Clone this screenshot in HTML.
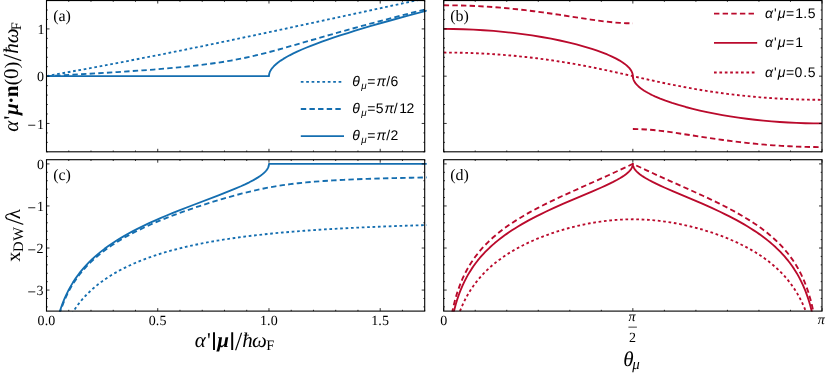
<!DOCTYPE html>
<html><head><meta charset="utf-8"><title>Figure</title>
<style>
html,body{margin:0;padding:0;background:#fff;}
body{width:830px;height:374px;overflow:hidden;position:relative;font-family:"Liberation Serif",serif;}
svg text{fill:#000;text-rendering:geometricPrecision;}
</style></head><body>
<svg width="830" height="374" viewBox="0 0 830 374" style="position:absolute;left:0;top:0;will-change:transform">
<defs>
<clipPath id="ca"><rect x="44.50" y="0.25" width="382.20" height="151.85"/></clipPath>
<clipPath id="cb"><rect x="441.70" y="0.25" width="382.30" height="151.85"/></clipPath>
<clipPath id="cc"><rect x="44.50" y="159.40" width="382.20" height="152.00"/></clipPath>
<clipPath id="cd"><rect x="441.70" y="159.40" width="382.30" height="152.00"/></clipPath>
</defs>
<rect width="830" height="374" fill="#fff"/>
<path d="M46.52 76.17L93.99 67.39L130.36 60.49L165.33 53.65L201.70 46.29L239.47 38.44L283.35 29.12L336.17 17.75L429.15 -2.37" fill="none" stroke="#146eb0" stroke-width="1.85" stroke-dasharray="2.7 2.7" clip-path="url(#ca)" stroke-linejoin="round"/>
<path d="M46.52 416.24L48.59 416.24L48.78 414.85L49.34 405.54L50.10 395.67L50.85 387.69L51.60 380.98L52.54 373.86L53.48 367.78L54.61 361.48L55.93 355.16L57.06 350.41L58.32 345.67L59.72 340.97L61.12 336.75L62.52 332.92L64.62 327.77L66.02 324.65L68.11 320.38L70.21 316.51L71.61 314.12L73.01 311.86L75.11 308.68L77.91 304.80L80.70 301.26L82.10 299.60L84.20 297.24L87.00 294.28L90.50 290.88L93.99 287.75L97.49 284.85L101.69 281.64L105.88 278.69L110.08 275.95L114.28 273.41L119.17 270.66L124.07 268.11L128.96 265.74L134.56 263.23L140.15 260.90L146.45 258.48L152.04 256.49L158.34 254.40L164.63 252.47L171.63 250.48L178.62 248.64L185.61 246.94L193.31 245.21L201.00 243.61L208.70 242.15L217.09 240.67L225.48 239.32L234.57 237.97L243.67 236.74L252.76 235.62L262.55 234.51L272.25 233.51L282.82 232.52L293.38 231.62L304.48 230.76L316.10 229.95L328.25 229.18L340.40 228.49L353.61 227.81L367.34 227.18L381.60 226.59L396.92 226.02L429.15 225.02" fill="none" stroke="#146eb0" stroke-width="1.85" stroke-dasharray="2.7 2.7" clip-path="url(#cc)" stroke-linejoin="round"/>
<path d="M46.52 76.17L87.70 73.87L117.07 72.10L142.25 70.39L153.44 69.55L163.93 68.70L173.72 67.84L183.52 66.90L192.61 65.94L201.00 64.96L208.70 63.98L216.39 62.91L224.08 61.72L231.08 60.54L240.87 58.69L249.96 56.77L259.05 54.64L269.12 52.09L276.48 50.11L284.40 47.91L329.83 34.86L344.10 30.85L358.36 26.91L374.74 22.49L392.17 17.89L410.13 13.25L429.15 8.42" fill="none" stroke="#146eb0" stroke-width="1.85" stroke-dasharray="5.4 3.24" clip-path="url(#ca)" stroke-linejoin="round"/>
<path d="M46.52 416.24L47.46 416.24L47.65 415.89L48.03 404.00L48.40 394.74L48.97 383.82L49.53 375.15L50.10 367.98L50.85 359.98L51.79 351.75L52.73 344.86L53.67 338.95L54.61 333.76L55.74 328.28L57.06 322.67L58.32 317.91L59.72 313.20L61.12 308.97L63.22 303.32L65.32 298.33L67.42 293.87L69.51 289.84L70.91 287.34L72.31 284.99L75.11 280.63L77.91 276.68L80.70 273.06L83.50 269.72L87.00 265.88L90.50 262.34L93.99 259.07L98.19 255.44L102.39 252.08L106.58 248.95L111.48 245.55L116.37 242.38L119.17 240.65L122.67 238.59L128.96 235.07L135.96 231.43L143.65 227.71L151.34 224.22L159.74 220.65L168.83 217.01L177.92 213.57L188.41 209.81L199.60 206.02L210.79 202.44L221.98 199.04L232.47 196.05L242.27 193.44L252.06 191.04L261.15 189.04L268.29 187.63L275.42 186.36L282.82 185.20L290.21 184.18L298.14 183.23L306.06 182.42L314.51 181.67L323.49 181.00L333.00 180.40L343.57 179.83L355.19 179.31L367.34 178.86L380.55 178.45L395.34 178.06L411.72 177.72L429.15 177.41" fill="none" stroke="#146eb0" stroke-width="1.85" stroke-dasharray="5.4 3.24" clip-path="url(#cc)" stroke-linejoin="round"/>
<path d="M46.50 76.18L268.96 76.18L269.00 75.35L269.12 74.47L269.29 73.62L269.54 72.79L269.85 71.96L270.23 71.13L271.20 69.47L272.25 68.03L273.84 66.24L274.89 65.20L275.95 64.24L278.06 62.52L280.70 60.62L283.35 58.91L286.52 57.04L289.68 55.31L293.38 53.43L297.08 51.68L301.31 49.78L306.06 47.77L310.82 45.85L316.10 43.82L321.91 41.68L327.72 39.63L334.06 37.46L340.93 35.20L347.80 33.01L355.19 30.71L371.04 25.97L388.47 21.00L408.02 15.63L429.15 10.03" fill="none" stroke="#146eb0" stroke-width="1.85" clip-path="url(#ca)" stroke-linejoin="round"/>
<path d="M46.52 416.24L47.46 416.24L47.65 414.44L48.03 402.54L48.40 393.28L48.97 382.36L49.53 373.70L50.10 366.52L50.85 358.53L51.60 351.81L52.54 344.69L53.48 338.61L54.42 333.29L55.55 327.68L56.68 322.74L58.32 316.45L59.72 311.74L61.12 307.50L62.52 303.65L64.62 298.46L66.72 293.83L68.81 289.66L70.91 285.86L73.01 282.37L75.81 278.12L78.61 274.25L80.00 272.43L82.10 269.85L84.90 266.62L88.40 262.89L91.89 259.45L96.09 255.65L100.29 252.14L104.48 248.87L108.68 245.82L113.58 242.49L117.77 239.80L122.67 236.84L127.56 234.04L132.46 231.38L137.36 228.84L142.95 226.07L148.55 223.42L154.84 220.57L160.44 218.12L166.03 215.75L172.33 213.17L178.62 210.65L191.21 205.76L218.49 195.39L229.68 190.98L235.27 188.67L240.87 186.26L245.06 184.34L249.26 182.30L253.46 180.09L255.56 178.89L257.65 177.61L259.75 176.23L261.15 175.22L262.55 174.13L263.95 172.93L265.35 171.55L266.05 170.76L266.97 169.57L267.71 168.40L268.24 167.31L268.65 166.18L268.89 165.02L268.98 163.91L429.15 163.91" fill="none" stroke="#146eb0" stroke-width="1.85" clip-path="url(#cc)" stroke-linejoin="round"/>
<path d="M443.70 5.28L451.50 5.32L459.79 5.47L468.08 5.72L476.38 6.08L484.08 6.50L492.37 7.05L500.66 7.69L508.95 8.43L517.25 9.27L525.54 10.20L533.83 11.21L542.72 12.38L558.71 14.67L590.70 19.56L598.40 20.65L604.91 21.48L612.61 22.32L619.72 22.89L626.24 23.22L632.85 23.33M632.85 129.02L639.46 129.13L645.98 129.46L653.09 130.03L660.79 130.87L667.30 131.70L675.00 132.79L706.99 137.68L722.98 139.97L731.87 141.14L740.16 142.15L748.45 143.08L756.75 143.92L765.04 144.66L773.33 145.30L781.62 145.85L789.32 146.27L797.62 146.63L805.91 146.88L814.20 147.03L822.00 147.07" fill="none" stroke="#ba0a2c" stroke-width="1.85" stroke-dasharray="5.4 3.24" clip-path="url(#cb)" stroke-linejoin="round"/>
<path d="M443.70 416.24L444.39 416.24L444.92 393.90L445.45 378.65L445.83 370.38L446.22 363.47L446.67 356.45L447.13 350.43L447.59 345.17L448.12 339.76L448.65 334.97L449.26 330.09L450.31 322.82L450.91 319.20L452.09 312.80L452.68 309.92L453.87 304.71L455.05 300.06L456.24 295.88L457.42 292.07L458.61 288.58L459.79 285.35L461.57 280.92L462.75 278.21L464.53 274.44L466.31 270.97L468.08 267.76L469.86 264.77L471.64 261.97L473.41 259.35L475.78 256.07L478.15 253.02L480.52 250.17L482.89 247.48L485.26 244.95L487.63 242.55L490.59 239.71L492.96 237.56L495.92 235.00L498.88 232.57L502.44 229.81L505.40 227.61L508.95 225.09L512.51 222.69L516.06 220.39L519.62 218.18L523.76 215.70L530.87 211.67L537.98 207.87L546.27 203.66L555.16 199.35L562.26 196.03L570.56 192.24L597.21 180.31L608.47 175.22L619.13 170.31L632.85 163.91L646.57 170.31L657.23 175.22L668.49 180.31L695.14 192.24L703.44 196.03L710.54 199.35L719.43 203.66L727.72 207.87L734.83 211.67L741.94 215.70L746.08 218.18L749.64 220.39L753.19 222.69L756.75 225.09L760.30 227.61L763.26 229.81L766.82 232.57L769.78 235.00L772.74 237.56L775.11 239.71L778.07 242.55L780.44 244.95L782.81 247.48L785.18 250.17L787.55 253.02L789.92 256.07L792.29 259.35L794.06 261.97L795.84 264.77L797.62 267.76L799.39 270.97L801.17 274.44L802.95 278.21L804.13 280.92L805.91 285.35L807.09 288.58L808.28 292.07L809.46 295.88L810.65 300.06L811.83 304.71L813.02 309.92L813.61 312.80L814.79 319.20L815.39 322.82L816.44 330.09L817.05 334.97L817.58 339.76L818.11 345.17L818.57 350.43L819.03 356.45L819.48 363.47L819.87 370.38L820.25 378.65L820.78 393.90L821.31 416.24L822.00 416.24" fill="none" stroke="#ba0a2c" stroke-width="1.85" stroke-dasharray="5.4 3.24" clip-path="url(#cd)" stroke-linejoin="round"/>
<path d="M443.70 28.91L453.27 28.98L463.34 29.22L473.41 29.63L483.48 30.21L493.55 30.95L503.03 31.81L513.10 32.89L522.58 34.08L532.06 35.44L541.53 36.98L551.01 38.70L559.90 40.51L568.19 42.37L576.48 44.43L584.18 46.53L591.88 48.87L597.21 50.65L602.54 52.59L607.28 54.48L612.02 56.57L616.17 58.61L619.72 60.58L622.68 62.45L624.46 63.70L625.64 64.62L627.57 66.28L629.20 67.94L630.53 69.61L631.07 70.43L631.55 71.27L632.19 72.67L632.61 74.06L632.80 75.26L632.94 77.47L633.11 78.36L633.35 79.21L633.73 80.20L634.19 81.17L634.77 82.14L635.45 83.11L636.28 84.15L637.23 85.18L638.28 86.21L639.46 87.25L640.65 88.20L642.42 89.50L644.20 90.68L645.98 91.77L647.76 92.78L650.13 94.05L652.49 95.22L654.86 96.33L657.23 97.37L660.19 98.60L665.53 100.65L672.04 102.90L678.56 104.95L685.67 106.98L692.77 108.83L699.88 110.53L706.99 112.09L714.69 113.65L722.39 115.06L730.09 116.35L738.38 117.61L746.68 118.73L754.97 119.73L763.26 120.60L771.55 121.35L779.85 121.98L788.14 122.50L796.43 122.91L805.32 123.21L813.61 123.38L822.00 123.44" fill="none" stroke="#ba0a2c" stroke-width="1.85" clip-path="url(#cb)" stroke-linejoin="round"/>
<path d="M443.70 416.24L444.54 416.24L445.07 395.79L445.68 380.34L446.06 372.95L446.52 365.51L446.98 359.19L447.51 352.85L448.50 343.13L449.11 338.10L449.72 333.61L450.91 326.05L451.50 322.73L452.68 316.77L453.27 314.09L454.46 309.17L455.64 304.78L456.83 300.79L458.01 297.15L459.20 293.80L460.38 290.69L461.57 287.79L462.75 285.08L464.53 281.32L466.31 277.86L468.08 274.65L469.86 271.67L471.64 268.88L473.41 266.27L475.78 263.00L477.56 260.71L479.34 258.53L481.11 256.45L483.48 253.82L485.26 251.94L487.63 249.56L490.00 247.30L492.37 245.14L494.74 243.08L497.70 240.63L500.07 238.76L503.03 236.52L505.99 234.37L508.95 232.32L511.92 230.35L514.88 228.45L518.43 226.26L521.99 224.15L525.54 222.13L529.09 220.17L536.79 216.14L540.94 214.07L545.68 211.78L553.97 207.92L563.45 203.71L572.33 199.89L592.47 191.36L601.36 187.48L605.51 185.60L609.65 183.64L613.21 181.87L616.76 180.00L620.31 177.96L622.09 176.86L623.87 175.69L625.64 174.40L626.83 173.47L627.93 172.52L628.93 171.58L629.85 170.60L630.65 169.63L631.33 168.66L631.87 167.71L632.31 166.73L632.61 165.79L632.79 164.85L632.85 163.91L632.91 164.85L633.09 165.79L633.39 166.73L633.83 167.71L634.37 168.66L635.05 169.63L635.85 170.60L636.77 171.58L637.77 172.52L638.87 173.47L640.06 174.40L641.83 175.69L643.61 176.86L645.39 177.96L648.94 180.00L652.49 181.87L656.05 183.64L660.19 185.60L664.34 187.48L673.23 191.36L693.37 199.89L702.25 203.71L711.73 207.92L720.02 211.78L724.76 214.07L728.91 216.14L736.61 220.17L740.16 222.13L743.71 224.15L747.27 226.26L750.82 228.45L753.78 230.35L756.75 232.32L759.71 234.37L762.67 236.52L765.63 238.76L768.00 240.63L770.96 243.08L773.33 245.14L775.70 247.30L778.07 249.56L780.44 251.94L782.22 253.82L784.59 256.45L786.36 258.53L788.14 260.71L789.92 263.00L792.29 266.27L794.06 268.88L795.84 271.67L797.62 274.65L799.39 277.86L801.17 281.32L802.95 285.08L804.13 287.79L805.32 290.69L806.50 293.80L807.69 297.15L808.87 300.79L810.06 304.78L811.24 309.17L812.43 314.09L813.02 316.77L814.20 322.73L814.79 326.05L815.98 333.61L816.59 338.10L817.20 343.13L818.19 352.85L818.72 359.19L819.18 365.51L819.64 372.95L820.02 380.34L820.63 395.79L821.16 416.24L822.00 416.24" fill="none" stroke="#ba0a2c" stroke-width="1.85" clip-path="url(#cd)" stroke-linejoin="round"/>
<path d="M443.70 52.54L455.05 52.63L466.90 52.89L478.75 53.34L490.59 53.98L502.44 54.81L513.69 55.76L525.54 56.96L536.79 58.28L548.64 59.86L560.49 61.64L572.33 63.61L584.18 65.77L595.44 67.99L607.87 70.61L619.72 73.21L651.90 80.45L661.97 82.63L671.45 84.60L682.70 86.80L693.37 88.74L704.03 90.53L714.10 92.07L727.13 93.85L733.64 94.65L740.75 95.45L753.78 96.75L760.30 97.31L767.41 97.85L773.92 98.29L781.03 98.71L787.55 99.03L794.66 99.32L801.17 99.52L808.28 99.69L815.39 99.78L822.00 99.81" fill="none" stroke="#ba0a2c" stroke-width="1.85" stroke-dasharray="2.7 2.7" clip-path="url(#cb)" stroke-linejoin="round"/>
<path d="M443.70 416.24L445.00 416.24L445.76 398.02L446.22 389.59L446.67 382.57L447.21 375.63L447.82 368.88L448.50 362.40L449.19 356.79L450.31 348.94L450.91 345.34L452.09 338.94L452.68 336.07L453.87 330.86L454.46 328.48L455.64 324.09L456.83 320.12L458.01 316.49L459.20 313.15L460.38 310.05L461.57 307.17L463.34 303.19L465.12 299.56L466.90 296.22L468.68 293.12L470.45 290.24L472.23 287.55L474.60 284.21L476.38 281.87L478.75 278.95L481.11 276.21L483.48 273.65L486.45 270.66L489.41 267.88L492.37 265.27L495.92 262.35L499.48 259.63L503.03 257.09L506.59 254.70L510.73 252.09L514.88 249.65L519.02 247.36L523.17 245.21L527.91 242.90L532.65 240.74L537.39 238.71L542.13 236.80L546.86 235.02L552.19 233.14L557.53 231.39L562.86 229.76L568.19 228.26L573.52 226.87L578.85 225.59L584.77 224.31L590.10 223.28L595.44 222.36L600.77 221.56L606.10 220.87L611.43 220.31L616.76 219.87L622.09 219.55L627.48 219.36L632.85 219.29L638.22 219.36L643.61 219.55L648.94 219.87L654.27 220.31L659.60 220.87L664.93 221.56L670.26 222.36L675.60 223.28L680.93 224.31L686.85 225.59L692.18 226.87L697.51 228.26L702.84 229.76L708.17 231.39L713.51 233.14L718.84 235.02L723.57 236.80L728.31 238.71L733.05 240.74L737.79 242.90L742.53 245.21L746.68 247.36L750.82 249.65L754.97 252.09L759.11 254.70L762.67 257.09L766.22 259.63L769.78 262.35L773.33 265.27L776.29 267.88L779.25 270.66L782.22 273.65L784.59 276.21L786.95 278.95L789.32 281.87L791.10 284.21L793.47 287.55L795.25 290.24L797.02 293.12L798.80 296.22L800.58 299.56L802.36 303.19L804.13 307.17L805.32 310.05L806.50 313.15L807.69 316.49L808.87 320.12L810.06 324.09L811.24 328.48L811.83 330.86L813.02 336.07L813.61 338.94L814.79 345.34L815.39 348.94L816.51 356.79L817.20 362.40L817.88 368.88L818.49 375.63L819.03 382.57L819.48 389.59L819.94 398.02L820.70 416.24L822.00 416.24" fill="none" stroke="#ba0a2c" stroke-width="1.85" stroke-dasharray="2.7 2.7" clip-path="url(#cd)" stroke-linejoin="round"/>
<path d="M68.75 151.80v-1.3M68.75 0.55v1.3M90.99 151.80v-1.3M90.99 0.55v1.3M113.24 151.80v-1.3M113.24 0.55v1.3M135.49 151.80v-1.3M135.49 0.55v1.3M179.98 151.80v-1.3M179.98 0.55v1.3M202.23 151.80v-1.3M202.23 0.55v1.3M224.48 151.80v-1.3M224.48 0.55v1.3M246.72 151.80v-1.3M246.72 0.55v1.3M291.22 151.80v-1.3M291.22 0.55v1.3M313.46 151.80v-1.3M313.46 0.55v1.3M335.71 151.80v-1.3M335.71 0.55v1.3M357.96 151.80v-1.3M357.96 0.55v1.3M402.45 151.80v-1.3M402.45 0.55v1.3M424.70 151.80v-1.3M424.70 0.55v1.3M46.50 151.80h1.3M424.70 151.80h-1.3M46.50 142.35h1.3M424.70 142.35h-1.3M46.50 132.89h1.3M424.70 132.89h-1.3M46.50 113.99h1.3M424.70 113.99h-1.3M46.50 104.53h1.3M424.70 104.53h-1.3M46.50 95.08h1.3M424.70 95.08h-1.3M46.50 85.63h1.3M424.70 85.63h-1.3M46.50 66.72h1.3M424.70 66.72h-1.3M46.50 57.27h1.3M424.70 57.27h-1.3M46.50 47.82h1.3M424.70 47.82h-1.3M46.50 38.36h1.3M424.70 38.36h-1.3M46.50 19.46h1.3M424.70 19.46h-1.3M46.50 10.00h1.3M424.70 10.00h-1.3M46.50 0.55h1.3M424.70 0.55h-1.3M46.50 151.80v-3M46.50 0.55v3M157.74 151.80v-3M157.74 0.55v3M268.97 151.80v-3M268.97 0.55v3M380.21 151.80v-3M380.21 0.55v3M46.50 123.44h3M424.70 123.44h-3M46.50 76.18h3M424.70 76.18h-3M46.50 28.91h3M424.70 28.91h-3" stroke="#000" stroke-width="0.8" fill="none"/><rect x="46.50" y="0.55" width="378.20" height="151.25" fill="none" stroke="#000" stroke-width="1.1"/>
<path d="M475.22 151.80v-1.3M475.22 0.55v1.3M506.75 151.80v-1.3M506.75 0.55v1.3M538.27 151.80v-1.3M538.27 0.55v1.3M569.80 151.80v-1.3M569.80 0.55v1.3M601.33 151.80v-1.3M601.33 0.55v1.3M664.38 151.80v-1.3M664.38 0.55v1.3M695.90 151.80v-1.3M695.90 0.55v1.3M727.42 151.80v-1.3M727.42 0.55v1.3M758.95 151.80v-1.3M758.95 0.55v1.3M790.47 151.80v-1.3M790.47 0.55v1.3M443.70 151.80h1.3M822.00 151.80h-1.3M443.70 142.35h1.3M822.00 142.35h-1.3M443.70 132.89h1.3M822.00 132.89h-1.3M443.70 113.99h1.3M822.00 113.99h-1.3M443.70 104.53h1.3M822.00 104.53h-1.3M443.70 95.08h1.3M822.00 95.08h-1.3M443.70 85.63h1.3M822.00 85.63h-1.3M443.70 66.72h1.3M822.00 66.72h-1.3M443.70 57.27h1.3M822.00 57.27h-1.3M443.70 47.82h1.3M822.00 47.82h-1.3M443.70 38.36h1.3M822.00 38.36h-1.3M443.70 19.46h1.3M822.00 19.46h-1.3M443.70 10.00h1.3M822.00 10.00h-1.3M443.70 0.55h1.3M822.00 0.55h-1.3M443.70 151.80v-3M443.70 0.55v3M632.85 151.80v-3M632.85 0.55v3M822.00 151.80v-3M822.00 0.55v3M443.70 123.44h3M822.00 123.44h-3M443.70 76.18h3M822.00 76.18h-3M443.70 28.91h3M822.00 28.91h-3" stroke="#000" stroke-width="0.8" fill="none"/><rect x="443.70" y="0.55" width="378.30" height="151.25" fill="none" stroke="#000" stroke-width="1.1"/>
<path d="M68.75 311.10v-1.3M68.75 159.70v1.3M90.99 311.10v-1.3M90.99 159.70v1.3M113.24 311.10v-1.3M113.24 159.70v1.3M135.49 311.10v-1.3M135.49 159.70v1.3M179.98 311.10v-1.3M179.98 159.70v1.3M202.23 311.10v-1.3M202.23 159.70v1.3M224.48 311.10v-1.3M224.48 159.70v1.3M246.72 311.10v-1.3M246.72 159.70v1.3M291.22 311.10v-1.3M291.22 159.70v1.3M313.46 311.10v-1.3M313.46 159.70v1.3M335.71 311.10v-1.3M335.71 159.70v1.3M357.96 311.10v-1.3M357.96 159.70v1.3M402.45 311.10v-1.3M402.45 159.70v1.3M424.70 311.10v-1.3M424.70 159.70v1.3M46.50 306.89h1.3M424.70 306.89h-1.3M46.50 298.48h1.3M424.70 298.48h-1.3M46.50 281.66h1.3M424.70 281.66h-1.3M46.50 273.25h1.3M424.70 273.25h-1.3M46.50 264.84h1.3M424.70 264.84h-1.3M46.50 256.43h1.3M424.70 256.43h-1.3M46.50 239.61h1.3M424.70 239.61h-1.3M46.50 231.19h1.3M424.70 231.19h-1.3M46.50 222.78h1.3M424.70 222.78h-1.3M46.50 214.37h1.3M424.70 214.37h-1.3M46.50 197.55h1.3M424.70 197.55h-1.3M46.50 189.14h1.3M424.70 189.14h-1.3M46.50 180.73h1.3M424.70 180.73h-1.3M46.50 172.32h1.3M424.70 172.32h-1.3M46.50 311.10v-3M46.50 159.70v3M157.74 311.10v-3M157.74 159.70v3M268.97 311.10v-3M268.97 159.70v3M380.21 311.10v-3M380.21 159.70v3M46.50 290.07h3M424.70 290.07h-3M46.50 248.02h3M424.70 248.02h-3M46.50 205.96h3M424.70 205.96h-3M46.50 163.91h3M424.70 163.91h-3" stroke="#000" stroke-width="0.8" fill="none"/><rect x="46.50" y="159.70" width="378.20" height="151.40" fill="none" stroke="#000" stroke-width="1.1"/>
<path d="M475.22 311.10v-1.3M475.22 159.70v1.3M506.75 311.10v-1.3M506.75 159.70v1.3M538.27 311.10v-1.3M538.27 159.70v1.3M569.80 311.10v-1.3M569.80 159.70v1.3M601.33 311.10v-1.3M601.33 159.70v1.3M664.38 311.10v-1.3M664.38 159.70v1.3M695.90 311.10v-1.3M695.90 159.70v1.3M727.42 311.10v-1.3M727.42 159.70v1.3M758.95 311.10v-1.3M758.95 159.70v1.3M790.47 311.10v-1.3M790.47 159.70v1.3M443.70 306.89h1.3M822.00 306.89h-1.3M443.70 298.48h1.3M822.00 298.48h-1.3M443.70 281.66h1.3M822.00 281.66h-1.3M443.70 273.25h1.3M822.00 273.25h-1.3M443.70 264.84h1.3M822.00 264.84h-1.3M443.70 256.43h1.3M822.00 256.43h-1.3M443.70 239.61h1.3M822.00 239.61h-1.3M443.70 231.19h1.3M822.00 231.19h-1.3M443.70 222.78h1.3M822.00 222.78h-1.3M443.70 214.37h1.3M822.00 214.37h-1.3M443.70 197.55h1.3M822.00 197.55h-1.3M443.70 189.14h1.3M822.00 189.14h-1.3M443.70 180.73h1.3M822.00 180.73h-1.3M443.70 172.32h1.3M822.00 172.32h-1.3M443.70 311.10v-3M443.70 159.70v3M632.85 311.10v-3M632.85 159.70v3M822.00 311.10v-3M822.00 159.70v3M443.70 290.07h3M822.00 290.07h-3M443.70 248.02h3M822.00 248.02h-3M443.70 205.96h3M822.00 205.96h-3M443.70 163.91h3M822.00 163.91h-3" stroke="#000" stroke-width="0.8" fill="none"/><rect x="443.70" y="159.70" width="378.30" height="151.40" fill="none" stroke="#000" stroke-width="1.1"/>
<text x="46.50" y="324.75" text-anchor="middle" font-size="14" font-family="Liberation Serif, serif" letter-spacing="0.2">0.0</text>
<text x="157.74" y="324.75" text-anchor="middle" font-size="14" font-family="Liberation Serif, serif" letter-spacing="0.2">0.5</text>
<text x="268.97" y="324.75" text-anchor="middle" font-size="14" font-family="Liberation Serif, serif" letter-spacing="0.2">1.0</text>
<text x="380.21" y="324.75" text-anchor="middle" font-size="14" font-family="Liberation Serif, serif" letter-spacing="0.2">1.5</text>
<text x="443.70" y="324.75" text-anchor="middle" font-size="14" font-family="Liberation Serif, serif" >0</text>
<text x="817.79" y="323.55" font-size="14" font-family="Liberation Serif, serif" font-style="italic">π</text>
<text x="628.59" y="321.00" font-size="14" font-family="Liberation Serif, serif" font-style="italic">π</text>
<path d="M628.4 327.15H636.9" stroke="#000" stroke-width="0.75"/>
<text x="628.98" y="342.30" font-size="14" font-family="Liberation Serif, serif">2</text>
<text x="37.47" y="34.21" font-size="14" font-family="Liberation Serif, serif">1</text>
<text x="36.97" y="81.48" font-size="14" font-family="Liberation Serif, serif">0</text>
<text x="36.97" y="128.74" font-size="14" font-family="Liberation Serif, serif">1</text><path d="M28.2 125.24H35.3" stroke="#000" stroke-width="0.85"/>
<text x="36.97" y="169.21" font-size="14" font-family="Liberation Serif, serif">0</text>
<text x="36.97" y="211.26" font-size="14" font-family="Liberation Serif, serif">1</text><path d="M28.2 207.76H35.3" stroke="#000" stroke-width="0.85"/>
<text x="36.48" y="253.32" font-size="14" font-family="Liberation Serif, serif">2</text><path d="M28.2 249.82H35.3" stroke="#000" stroke-width="0.85"/>
<text x="36.43" y="295.37" font-size="14" font-family="Liberation Serif, serif">3</text><path d="M28.2 291.87H35.3" stroke="#000" stroke-width="0.85"/>
<text x="53.20" y="20.70" text-anchor="start" font-size="16" font-family="Liberation Serif, serif" >(a)</text>
<text x="450.20" y="20.70" text-anchor="start" font-size="16" font-family="Liberation Serif, serif" >(b)</text>
<text x="53.20" y="179.90" text-anchor="start" font-size="16" font-family="Liberation Serif, serif" >(c)</text>
<text x="450.20" y="179.90" text-anchor="start" font-size="16" font-family="Liberation Serif, serif" >(d)</text>
<text x="194.77" y="346.60" font-size="21" font-family="Liberation Serif, serif" font-style="italic">α</text>
<text x="207.12" y="346.60" font-size="21" font-family="Liberation Serif, serif">'</text>
<path d="M214.0 332.2V350.0M232.2 332.2V350.0" stroke="#000" stroke-width="1.95"/>
<text x="217.29" y="346.60" font-size="21" font-family="Liberation Serif, serif" font-style="italic" font-weight="bold">μ</text>
<text x="235.10" y="349.70" font-size="26" font-family="Liberation Serif, serif">/</text>
<text x="242.14" y="346.60" font-size="21" font-family="Liberation Serif, serif" font-style="italic">ħ</text>
<text x="251.90" y="346.60" font-size="21" font-family="Liberation Serif, serif" font-style="italic">ω</text>
<text x="266.28" y="349.70" font-size="14.5" font-family="Liberation Serif, serif">F</text>
<text x="623.17" y="365.60" font-size="21" font-family="Liberation Serif, serif" font-style="italic">θ</text>
<text x="632.31" y="368.80" font-size="15" font-family="Liberation Serif, serif" font-style="italic">μ</text>
<g transform="translate(18.30 131.25) rotate(-90)"><text x="-0.43" y="0.00" font-size="21" font-family="Liberation Serif, serif" font-style="italic">α</text><text x="11.82" y="0.00" font-size="21" font-family="Liberation Serif, serif">'</text><text x="16.39" y="0.00" font-size="21" font-family="Liberation Serif, serif" font-style="italic" font-weight="bold">μ</text><text x="27.51" y="0.00" font-size="21" font-family="Liberation Serif, serif" font-weight="bold">·</text><text x="34.04" y="0.00" font-size="21" font-family="Liberation Serif, serif" font-weight="bold">n</text><text x="45.94" y="0.00" font-size="19.5" font-family="Liberation Serif, serif">(</text><text x="52.30" y="0.00" font-size="21" font-family="Liberation Serif, serif">0</text><text x="62.97" y="0.00" font-size="19.5" font-family="Liberation Serif, serif">)</text><text x="70.10" y="3.10" font-size="26" font-family="Liberation Serif, serif">/</text><text x="77.44" y="0.00" font-size="21" font-family="Liberation Serif, serif" font-style="italic">ħ</text><text x="87.90" y="0.00" font-size="21" font-family="Liberation Serif, serif" font-style="italic">ω</text><text x="100.98" y="3.00" font-size="14.5" font-family="Liberation Serif, serif">F</text></g>
<g transform="translate(19.50 261.70) rotate(-90)"><text x="0.02" y="0.00" font-size="20" font-family="Liberation Serif, serif">x</text><text x="9.58" y="3.40" font-size="14.5" font-family="Liberation Serif, serif">D</text><text x="20.89" y="3.40" font-size="14.5" font-family="Liberation Serif, serif">W</text><text x="36.60" y="3.20" font-size="26" font-family="Liberation Serif, serif">/</text><text x="42.55" y="0.00" font-size="21" font-family="Liberation Serif, serif">λ</text></g>
<path d="M300.80 81.90H344.00" stroke="#146eb0" stroke-width="1.8" stroke-dasharray="2.7 2.7"/>
<path d="M300.80 109.00H344.00" stroke="#146eb0" stroke-width="1.8" stroke-dasharray="5.4 3.24"/>
<path d="M300.80 136.10H344.00" stroke="#146eb0" stroke-width="1.8"/>
<text x="352.31" y="85.70" font-size="14" font-family="Liberation Sans, sans-serif" font-style="italic">θ</text><text x="361.31" y="89.00" font-size="9.8" font-family="Liberation Sans, sans-serif" font-style="italic">μ</text><text x="367.32" y="85.70" font-size="14" font-family="Liberation Sans, sans-serif">=</text><text x="376.58" y="85.70" font-size="14" font-family="Liberation Sans, sans-serif" font-style="italic">π</text><text x="386.20" y="85.70" font-size="14" font-family="Liberation Sans, sans-serif">/</text><text x="390.39" y="85.70" font-size="14" font-family="Liberation Sans, sans-serif">6</text>
<text x="352.31" y="112.70" font-size="14" font-family="Liberation Sans, sans-serif" font-style="italic">θ</text><text x="361.31" y="116.00" font-size="9.8" font-family="Liberation Sans, sans-serif" font-style="italic">μ</text><text x="367.32" y="112.70" font-size="14" font-family="Liberation Sans, sans-serif">=</text><text x="375.84" y="112.70" font-size="14" font-family="Liberation Sans, sans-serif">5</text><text x="384.48" y="112.70" font-size="14" font-family="Liberation Sans, sans-serif" font-style="italic">π</text><text x="393.70" y="112.70" font-size="14" font-family="Liberation Sans, sans-serif">/</text><text x="399.13" y="112.70" font-size="14" font-family="Liberation Sans, sans-serif">1</text><text x="406.60" y="112.70" font-size="14" font-family="Liberation Sans, sans-serif">2</text>
<text x="352.31" y="140.00" font-size="14" font-family="Liberation Sans, sans-serif" font-style="italic">θ</text><text x="361.31" y="143.30" font-size="9.8" font-family="Liberation Sans, sans-serif" font-style="italic">μ</text><text x="367.32" y="140.00" font-size="14" font-family="Liberation Sans, sans-serif">=</text><text x="376.58" y="140.00" font-size="14" font-family="Liberation Sans, sans-serif" font-style="italic">π</text><text x="386.20" y="140.00" font-size="14" font-family="Liberation Sans, sans-serif">/</text><text x="390.40" y="140.00" font-size="14" font-family="Liberation Sans, sans-serif">2</text>
<path d="M714.00 13.60H757.20" stroke="#ba0a2c" stroke-width="1.8" stroke-dasharray="5.4 3.24"/>
<path d="M714.00 42.90H757.20" stroke="#ba0a2c" stroke-width="1.8"/>
<path d="M714.00 72.50H757.20" stroke="#ba0a2c" stroke-width="1.8" stroke-dasharray="2.7 2.7"/>
<text x="765.02" y="18.00" font-size="14" font-family="Liberation Sans, sans-serif" font-style="italic">α</text><text x="774.09" y="18.00" font-size="14" font-family="Liberation Sans, sans-serif">'</text><text x="777.79" y="18.00" font-size="14" font-family="Liberation Sans, sans-serif" font-style="italic">μ</text><text x="786.02" y="18.00" font-size="14" font-family="Liberation Sans, sans-serif">=</text><text x="795.33" y="18.00" font-size="14" font-family="Liberation Sans, sans-serif">1</text><text x="803.22" y="18.00" font-size="14" font-family="Liberation Sans, sans-serif">.</text><text x="807.74" y="18.00" font-size="14" font-family="Liberation Sans, sans-serif">5</text>
<text x="765.02" y="47.30" font-size="14" font-family="Liberation Sans, sans-serif" font-style="italic">α</text><text x="774.09" y="47.30" font-size="14" font-family="Liberation Sans, sans-serif">'</text><text x="777.79" y="47.30" font-size="14" font-family="Liberation Sans, sans-serif" font-style="italic">μ</text><text x="786.02" y="47.30" font-size="14" font-family="Liberation Sans, sans-serif">=</text><text x="795.33" y="47.30" font-size="14" font-family="Liberation Sans, sans-serif">1</text>
<text x="765.02" y="76.70" font-size="14" font-family="Liberation Sans, sans-serif" font-style="italic">α</text><text x="774.09" y="76.70" font-size="14" font-family="Liberation Sans, sans-serif">'</text><text x="777.79" y="76.70" font-size="14" font-family="Liberation Sans, sans-serif" font-style="italic">μ</text><text x="786.02" y="76.70" font-size="14" font-family="Liberation Sans, sans-serif">=</text><text x="794.55" y="76.70" font-size="14" font-family="Liberation Sans, sans-serif">0</text><text x="803.22" y="76.70" font-size="14" font-family="Liberation Sans, sans-serif">.</text><text x="807.74" y="76.70" font-size="14" font-family="Liberation Sans, sans-serif">5</text>
</svg>
</body></html>
